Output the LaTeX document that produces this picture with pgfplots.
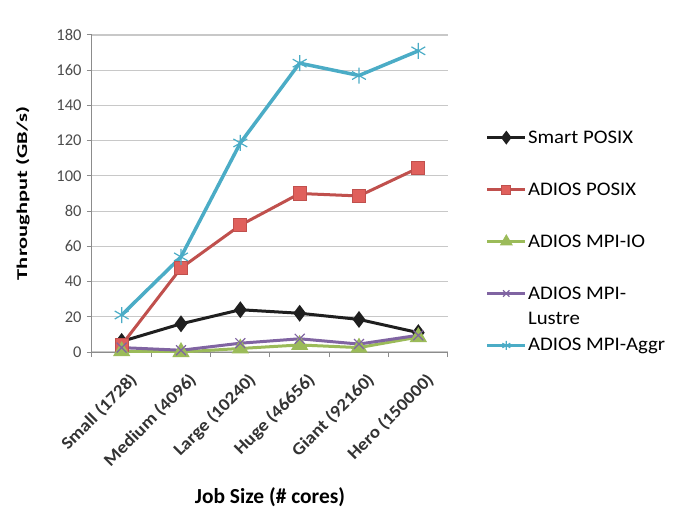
\documentclass[border=0pt]{standalone}
\usepackage{fontspec}
\setmainfont{Carlito}
\newfontfamily\legf{Carlito}[FakeStretch=1.08]
\newfontfamily\ylf{Carlito}[FakeStretch=1.5]
\newfontfamily\xtf{Carlito}[FakeStretch=1.1]
\usepackage{pgfplots}
\pgfplotsset{compat=1.18}
\definecolor{smartc}{HTML}{1F1F1F}
\definecolor{posixc}{HTML}{C0504D}
\definecolor{posixf}{HTML}{E0605C}
\definecolor{mpiioc}{HTML}{9BBB59}
\definecolor{lustrec}{HTML}{8064A2}
\definecolor{aggrc}{HTML}{4BACC6}
\definecolor{gridc}{HTML}{C8C8C8}
\definecolor{axisc}{HTML}{8C8C8C}

\begin{document}
\begin{tikzpicture}
\useasboundingbox (-92bp,-156bp) rectangle (582bp,352bp);
\begin{axis}[
    scale only axis,
    width=356bp, height=317bp,
    xmin=-0.5, xmax=5.5,
    ymin=0, ymax=180,
    ytick={0,20,...,180},
    xtick={0,...,5},
    xticklabels={Small (1728),Medium (4096),Large (10240),Huge (46656),Giant (92160),Hero (150000)},
    minor xtick={-0.5,0.5,...,5.5},
    major x tick style={draw=none},
    minor tick length=5bp,
    major tick length=5bp,
    tick align=outside,
    axis x line*=bottom, axis y line*=left,
    axis line style={axisc, line width=1bp},
    every tick/.style={axisc, line width=1bp},
    ymajorgrids,
    grid style={gridc, line width=1.2bp},
    /pgf/number format/assume math mode=true,
    y tick label style={font=\fontsize{16.5}{18}\selectfont, color=black!70, xshift=-2bp},
    x tick label style={xshift=7bp, yshift=-13bp, rotate=45, anchor=north east, inner sep=1bp,
        font=\xtf\bfseries\fontsize{17.5}{19}\selectfont, color=black!80},
    xlabel={Job Size (\# cores)},
    ylabel={Throughput (GB/s)},
    xlabel style={at={(axis description cs:0.5,-0.457)}, anchor=center, font=\bfseries\fontsize{21.5}{24}\selectfont},
    ylabel style={at={(axis description cs:-0.194,0.5)}, anchor=center, font=\ylf\bfseries\fontsize{15}{17}\selectfont},
    legend style={at={(axis description cs:1.105,0.699)}, anchor=north west, draw=none, fill=none,
        row sep=38bp, column sep=1bp, inner sep=0pt, nodes={inner sep=0bp},
        font=\legf\fontsize{19.3}{21}\selectfont},
    legend cell align=left,
    legend image code/.code={\draw[mark repeat=2,mark phase=2,mark size=4.5bp] plot coordinates {(0bp,0bp)(19bp,0bp)(38bp,0bp)};},
]
\addplot[smartc, line width=3bp, mark=diamond*, mark size=6bp, mark options={fill=smartc, solid}]
    coordinates {(0,6) (1,16) (2,24) (3,22) (4,18.5) (5,11)};
\addlegendentry{Smart POSIX}
\addplot[posixc, line width=3bp, mark=square*, mark size=6.5bp, mark options={fill=posixf, draw=posixc, line width=1bp}]
    coordinates {(0,4) (1,47.7) (2,72) (3,90) (4,88.6) (5,104.5)};
\addlegendentry{ADIOS POSIX}
\addplot[mpiioc, line width=3bp, mark=triangle*, mark size=7bp, mark options={fill=mpiioc, solid}]
    coordinates {(0,0.5) (1,0) (2,2) (3,4) (4,2.5) (5,8.5)};
\addlegendentry{ADIOS MPI-IO}
\addplot[lustrec, line width=3bp, mark=x, mark size=7bp, mark options={line width=1.2bp}]
    coordinates {(0,2.5) (1,1) (2,5) (3,7.5) (4,4.5) (5,9.5)};
\addlegendentry{\rlap{\raisebox{-25bp}[0pt][0pt]{Lustre}}ADIOS MPI-}
\addplot[aggrc, line width=3.5bp, mark=asterisk, mark size=8bp, mark options={line width=1.2bp}]
    coordinates {(0,21) (1,54) (2,118.7) (3,164) (4,157) (5,171)};
\addlegendentry{ADIOS MPI-Aggr}
\end{axis}
\end{tikzpicture}
\end{document}
